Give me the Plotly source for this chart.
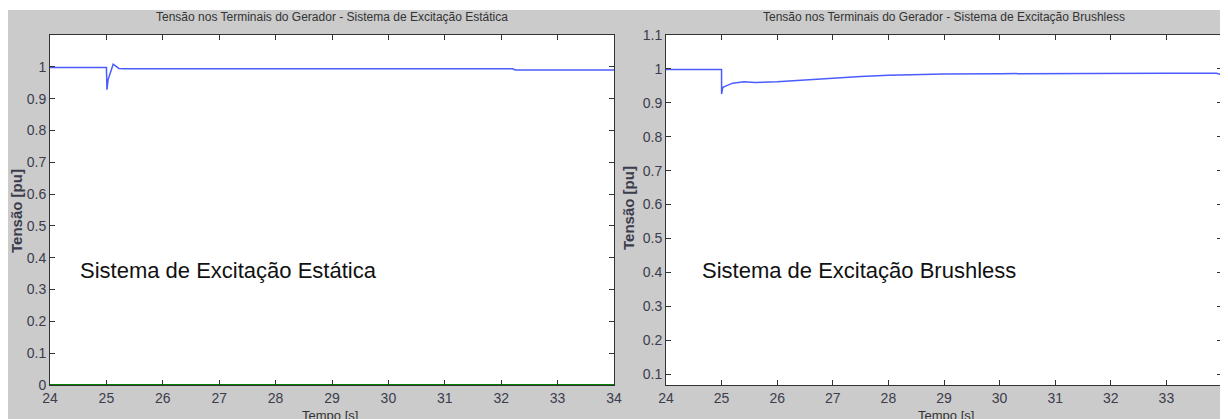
import plotly.graph_objects as go

# ---- data ----
t_static = [24, 25.0, 25.01, 25.03, 25.12, 25.22, 25.3, 32.2, 32.25, 34]
v_static = [0.998, 0.998, 0.928, 0.96, 1.008, 0.995, 0.994, 0.994, 0.99, 0.99]
t_zero = [24, 34]
v_zero = [0, 0]

t_brush = [24, 24.999, 25.0, 25.02, 25.05, 25.1, 25.2, 25.4, 25.6, 26, 26.5, 27, 27.5, 28, 28.5, 29, 30, 31, 32, 33, 33.9, 34]
v_brush = [0.998, 0.998, 0.926, 0.945, 0.948, 0.952, 0.958, 0.962, 0.960, 0.962, 0.968, 0.974, 0.978, 0.981, 0.983, 0.985, 0.986, 0.987, 0.987, 0.987, 0.987, 0.983]

x_ticks = list(range(24, 35))
y_ticks_left = [0, 0.1, 0.2, 0.3, 0.4, 0.5, 0.6, 0.7, 0.8, 0.9, 1]
y_ticks_right = [0.1, 0.2, 0.3, 0.4, 0.5, 0.6, 0.7, 0.8, 0.9, 1, 1.1]

title_left = "Tensão nos Terminais do Gerador - Sistema de Excitação Estática"
title_right = "Tensão nos Terminais do Gerador - Sistema de Excitação Brushless"
label_left = "Sistema de Excitação Estática"
label_right = "Sistema de Excitação Brushless"

# page body adds an 8px margin, so the figure is drawn 8px right/down
W, H = 1220, 411
SANS = "Liberation Sans, Arial, sans-serif"
TICKC = "#3c3c4c"
AXC = "#333333"
BLUE = "#4a5cff"

def px_x(p):
    return p / W

def px_y(p):
    return 1 - p / H

fig = go.Figure()
fig.add_trace(go.Scatter(x=t_zero, y=v_zero, mode="lines", line=dict(color="#008000", width=2),
                         xaxis="x", yaxis="y", showlegend=False))
fig.add_trace(go.Scatter(x=t_static, y=v_static, mode="lines", line=dict(color=BLUE, width=1.5),
                         xaxis="x", yaxis="y", showlegend=False))
fig.add_trace(go.Scatter(x=t_zero, y=v_zero, mode="lines", line=dict(color="#008000", width=2),
                         xaxis="x2", yaxis="y2", showlegend=False))
fig.add_trace(go.Scatter(x=t_brush, y=v_brush, mode="lines", line=dict(color=BLUE, width=1.5),
                         xaxis="x2", yaxis="y2", showlegend=False))

common = dict(showline=True, linecolor=AXC, linewidth=1, mirror="allticks", ticks="inside",
              ticklen=5, tickcolor=AXC, showgrid=False, zeroline=False, automargin=False,
              tickfont=dict(family=SANS, size=14, color=TICKC))

ybot = px_y(377)
ytop = px_y(27)

fig.update_layout(
    width=W, height=H,
    margin=dict(l=0, r=0, t=0, b=0),
    paper_bgcolor="#cbcbcb",
    plot_bgcolor="white",
    xaxis=dict(domain=[px_x(42), px_x(606)], range=[24, 34], tickvals=x_ticks, anchor="y", **common),
    yaxis=dict(domain=[ybot, ytop], range=[0, 1.1], tickvals=y_ticks_left, anchor="x", **common),
    xaxis2=dict(domain=[px_x(658), px_x(1214)], range=[24, 34], tickvals=x_ticks, anchor="y2", **common),
    yaxis2=dict(domain=[ybot, ytop], range=[0.068, 1.1], tickvals=y_ticks_right, anchor="x2", **common),
    shapes=[
        dict(type="rect", xref="paper", yref="paper", x0=0, x1=1, y0=px_y(2), y1=1,
             fillcolor="white", line=dict(width=0), layer="below"),
    ],
    annotations=[
        dict(text=title_left, xref="paper", yref="paper", x=px_x(324), y=px_y(9), showarrow=False,
             font=dict(family=SANS, size=12, color="#333333"), xanchor="center", yanchor="middle"),
        dict(text=title_right, xref="paper", yref="paper", x=px_x(936), y=px_y(9), showarrow=False,
             font=dict(family=SANS, size=12, color="#333333"), xanchor="center", yanchor="middle"),
        dict(text="<b>Tensão [pu]</b>", xref="paper", yref="paper", x=px_x(9), y=px_y(203), textangle=-90,
             showarrow=False, font=dict(family=SANS, size=15, color="#3c3c4c"),
             xanchor="center", yanchor="middle"),
        dict(text="<b>Tensão [pu]</b>", xref="paper", yref="paper", x=px_x(620), y=px_y(200), textangle=-90,
             showarrow=False, font=dict(family=SANS, size=15, color="#3c3c4c"),
             xanchor="center", yanchor="middle"),
        dict(text="Tempo [s]", xref="paper", yref="paper", x=px_x(322), y=px_y(407), showarrow=False,
             font=dict(family=SANS, size=13, color="#333333"), xanchor="center", yanchor="middle"),
        dict(text="Tempo [s]", xref="paper", yref="paper", x=px_x(938), y=px_y(407), showarrow=False,
             font=dict(family=SANS, size=13, color="#333333"), xanchor="center", yanchor="middle"),
        dict(text=label_left, xref="paper", yref="paper", x=px_x(70), y=px_y(262), showarrow=False,
             font=dict(family=SANS, size=22, color="#111111"),
             xanchor="left", yanchor="middle"),
        dict(text=label_right, xref="paper", yref="paper", x=px_x(692), y=px_y(262), showarrow=False,
             font=dict(family=SANS, size=22, color="#111111"),
             xanchor="left", yanchor="middle"),
    ],
)

fig.write_html("out.html")
